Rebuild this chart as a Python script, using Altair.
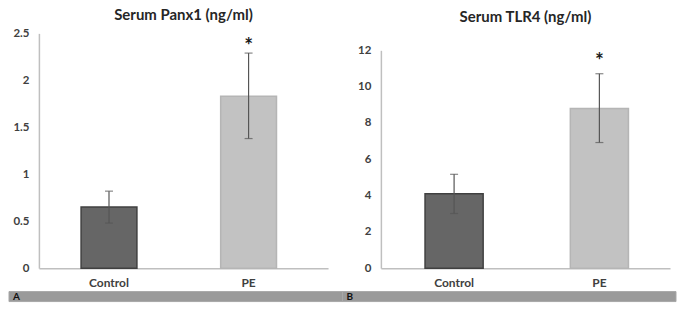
import altair as alt
import pandas as pd

groups = ["Control", "PE"]
panx1_mean = [0.65, 1.83]
panx1_low = [0.48, 1.38]
panx1_high = [0.82, 2.29]
tlr4_mean = [4.10, 8.80]
tlr4_low = [3.01, 6.92]
tlr4_high = [5.17, 10.71]
significance = ["", "*"]
panel_labels = ["A", "B"]
titles = ["Serum Panx1 (ng/ml)", "Serum TLR4 (ng/ml)"]
panx1_ticks = [0, 0.5, 1, 1.5, 2, 2.5]
tlr4_ticks = [0, 2, 4, 6, 8, 10, 12]

FONT = "Lato"
bar_colors = ["#666666", "#c2c2c2"]
bar_strokes = ["#404040", "#b5b5b5"]
err_color = "#555555"
PLOT_H = 235.5


def panel(mean, low, high, ticks, title, po, align, star_dy, yrange, title_offset):
    df = pd.DataFrame({"group": groups, "mean": mean, "low": low,
                       "high": high, "sig": significance})
    xscale = alt.Scale(paddingInner=0.6, paddingOuter=po, align=align)
    xaxis = alt.Axis(title=None, labelAngle=0, ticks=False,
                     labelPadding=9, labelFontSize=12)
    yscale = alt.Scale(domain=[ticks[0], ticks[-1]], nice=False, range=yrange)
    yaxis = alt.Axis(values=ticks, format="~g", title="\u00a0", titleFontSize=1,
                     titlePadding=0, ticks=False, labelOverlap=False,
                     labelPadding=10, labelFontSize=11.5,
                     minExtent=30, maxExtent=30)

    def X():
        return alt.X("group:N", sort=groups, scale=xscale, axis=xaxis)

    def Y(field):
        return alt.Y(f"{field}:Q", scale=yscale, axis=yaxis)

    base = alt.Chart(df)
    bars = base.mark_bar(strokeWidth=1.5).encode(
        x=X(), y=Y("mean"),
        fill=alt.Fill("group:N", scale=alt.Scale(domain=groups, range=bar_colors), legend=None),
        stroke=alt.Stroke("group:N", scale=alt.Scale(domain=groups, range=bar_strokes), legend=None),
    )
    rules = base.mark_rule(color=err_color, strokeWidth=1.2).encode(
        x=X(), y=Y("low"), y2="high:Q")
    cap_hi = base.mark_tick(color=err_color, size=8, thickness=1.2).encode(x=X(), y=Y("high"))
    cap_lo = base.mark_tick(color=err_color, size=8, thickness=1.2).encode(x=X(), y=Y("low"))
    star = base.mark_text(font=FONT, fontWeight="bold", fontSize=21, color="#1a1a1a",
                          baseline="middle", dy=star_dy).encode(
        x=X(), y=Y("high"), text="sig:N")
    return alt.layer(bars, rules, cap_hi, cap_lo, star).properties(
        width=290, height=PLOT_H,
        title=alt.Title(title, fontSize=15, font=FONT, fontWeight="bold",
                        color="#262626", offset=title_offset))


pA = panel(panx1_mean, panx1_low, panx1_high, panx1_ticks, titles[0],
           0.3357, 0.45, -6, [PLOT_H, 0], 4)
pB = panel(tlr4_mean, tlr4_low, tlr4_high, tlr4_ticks, titles[1],
           0.295, 0.515, -12, [PLOT_H, 17], 8)

top = alt.hconcat(pA, pB, spacing=22)

band_df = pd.DataFrame({"panel": panel_labels})
band_scale = alt.Scale(paddingInner=0, paddingOuter=0, range=[-30, 639])
band_rect = alt.Chart(band_df).mark_rect(color="#9a9a9a", stroke="#a8a8a8", strokeWidth=1).encode(
    x=alt.X("panel:N", scale=band_scale, axis=None))
band_text = alt.Chart(band_df).mark_text(font=FONT, fontWeight="bold", fontSize=10,
                                         color="#111111", align="left", dx=4,
                                         baseline="middle").encode(
    x=alt.X("panel:N", bandPosition=0, scale=band_scale, axis=None),
    text="panel:N")
band = alt.layer(band_rect, band_text).properties(width=639, height=10)

chart = alt.vconcat(top, band, spacing=2).properties(
    padding=0, background="white"
).configure_view(stroke=None).configure_axis(
    grid=False, domainColor="#bfbfbf", domainWidth=1.5,
    labelFont=FONT, labelFontWeight="bold", labelColor="#404040"
)

chart.save("out.html", embed_options={"renderer": "svg", "actions": False})
